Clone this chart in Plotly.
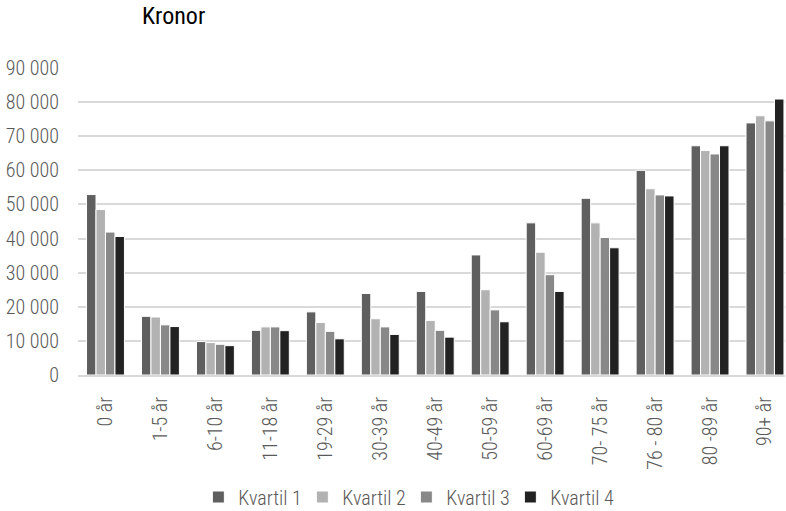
import plotly.graph_objects as go

categories = ["0 år", "1-5 år", "6-10 år", "11-18 år", "19-29 år", "30-39 år", "40-49 år",
              "50-59 år", "60-69 år", "70- 75 år", "76 - 80 år", "80 -89 år", "90+ år"]
kvartil1 = [52900, 17200, 9800, 13100, 18500, 23900, 24500, 35200, 44600, 51800, 60000, 67200, 73900]
kvartil2 = [48500, 17000, 9500, 14100, 15400, 16500, 16000, 25000, 36000, 44600, 54600, 65800, 76000]
kvartil3 = [41900, 14700, 9000, 14100, 12800, 14100, 13100, 19100, 29400, 40300, 52800, 64800, 74500]
kvartil4 = [40600, 14200, 8600, 13000, 10600, 11900, 11100, 15600, 24500, 37300, 52500, 67200, 80900]
series_names = ["Kvartil 1", "Kvartil 2", "Kvartil 3", "Kvartil 4"]
colors = ["#5f5f5f", "#b2b2b2", "#888888", "#222222"]
tick_vals = [0, 10000, 20000, 30000, 40000, 50000, 60000, 70000, 80000, 90000]
tick_text = ["0", "10 000", "20 000", "30 000", "40 000", "50 000", "60 000", "70 000", "80 000", "90 000"]

FONT = "Roboto Condensed"
TXT = "#595959"
W, H = 786, 511

fig = go.Figure()
for name, vals, c in zip(series_names, [kvartil1, kvartil2, kvartil3, kvartil4], colors):
    fig.add_trace(go.Bar(x=list(range(len(categories))), y=vals, name=name,
                         marker=dict(color=c, line=dict(color="white", width=1))))

fig.update_layout(
    template="none",
    width=W, height=H,
    barmode="group", bargap=0.31, bargroupgap=0,
    plot_bgcolor="white", paper_bgcolor="white",
    margin=dict(l=78, r=1, t=68, b=136, autoexpand=False),
    font=dict(family=FONT, size=20, color=TXT, weight=300),
    xaxis=dict(range=[-0.5, 12.364], tickmode="array", tickvals=list(range(len(categories))),
               ticktext=categories, tickangle=-90, showline=True, linecolor="#d9d9d9",
               linewidth=1.5, showgrid=False, zeroline=False, automargin=False,
               tickfont=dict(family=FONT, size=20, color=TXT, weight=300), ticks="",
               ticklabelstandoff=12),
    yaxis=dict(range=[0, 90000], tickvals=tick_vals, ticktext=tick_text,
               showgrid=True, gridcolor="#d9d9d9", gridwidth=1.5, zeroline=False,
               showline=False, automargin=False,
               tickfont=dict(family=FONT, size=20, color=TXT, weight=300), ticks="",
               ticklabelstandoff=18),
    legend=dict(orientation="h", xref="container", yref="container",
                x=0.517, xanchor="center", y=14 / H, yanchor="middle",
                font=dict(family=FONT, size=20, color=TXT, weight=300),
                itemwidth=30, entrywidth=59, entrywidthmode="pixels",
                bgcolor="rgba(0,0,0,0)"),
    showlegend=True,
)
fig.add_annotation(text="Kronor", xref="paper", yref="paper", x=(141 - 78) / 707,
                   y=(H - 16 - 136) / 307, xanchor="left", yanchor="middle", showarrow=False,
                   borderpad=0,
                   font=dict(family=FONT, size=24, color="#000000", weight=400))
fig.write_html("out.html", config={"displayModeBar": False},
               post_script="document.body.style.margin='0';")
